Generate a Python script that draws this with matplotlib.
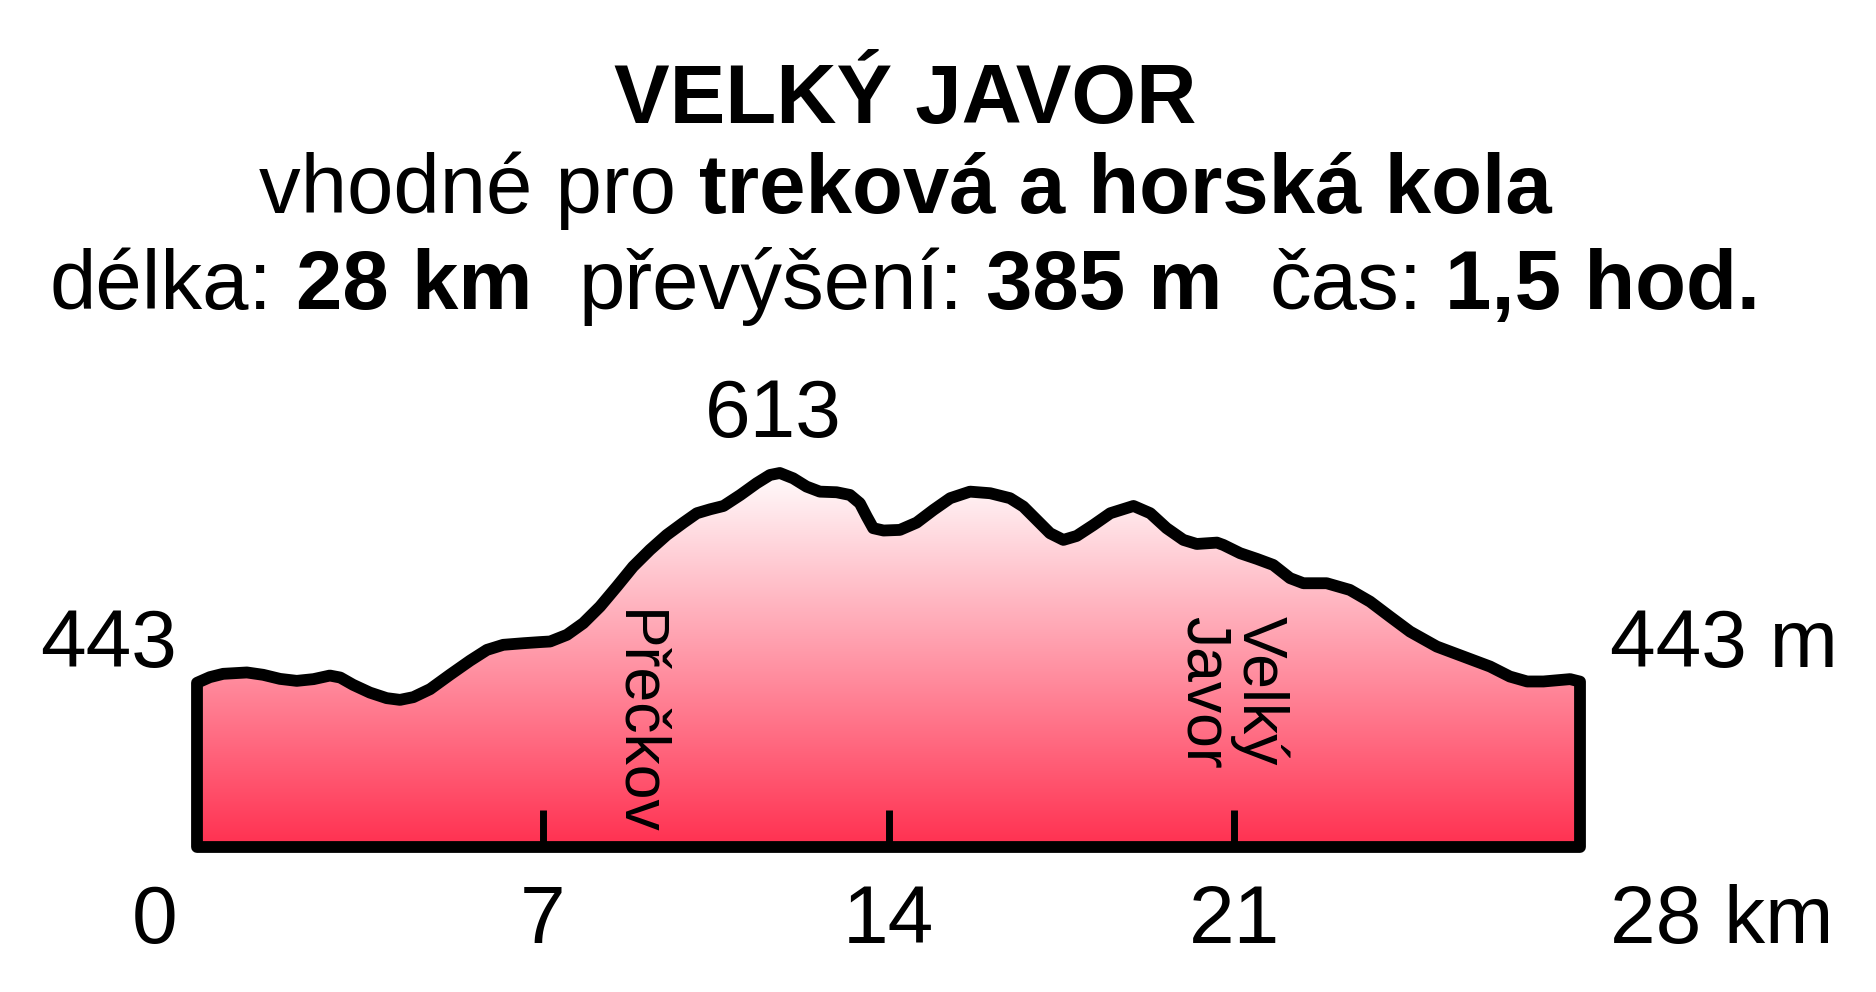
import numpy as np
import matplotlib
matplotlib.use("Agg")
import matplotlib.pyplot as plt
from matplotlib.colors import LinearSegmentedColormap
from matplotlib.patches import Polygon

plt.rcParams['font.family'] = ['Liberation Sans', 'DejaVu Sans']

# elevation profile (km, m n. m.)
km = [0, 0.26, 0.53, 1.01, 1.34, 1.68, 2.02, 2.36, 2.69, 2.9, 3.16, 3.5,
      3.84, 4.11, 4.38, 4.72, 5.12, 5.53, 5.87, 6.2, 6.61, 6.94, 7.15, 7.49,
      7.82, 8.16, 8.5, 8.83, 9.17, 9.51, 9.85, 10.12, 10.39, 10.66, 11.0,
      11.33, 11.6, 11.8, 12.07, 12.34, 12.61, 12.95, 13.22, 13.42, 13.56,
      13.69, 13.9, 14.23, 14.57, 14.91, 15.25, 15.65, 16.06, 16.46, 16.73,
      17.0, 17.27, 17.54, 17.81, 18.15, 18.49, 18.96, 19.3, 19.63, 19.97,
      20.24, 20.65, 20.78, 21.12, 21.46, 21.79, 22.13, 22.4, 22.87, 23.34,
      23.75, 24.15, 24.56, 25.1, 25.64, 26.18, 26.58, 26.93, 27.26, 27.8, 28]
elev = [443, 447.6, 450.3, 451.4, 449.5, 446.2, 444.6, 446, 448.9, 447.3,
        441.4, 435.1, 430.6, 429.2, 431.4, 437.9, 449.5, 461, 469.7, 473.8,
        475.1, 476, 476.5, 481.9, 491.3, 504.8, 521, 537.2, 550.7, 562.8,
        572.8, 580.4, 583.6, 586.3, 595.2, 604.7, 611.4, 613, 608.7, 602,
        597.9, 597.4, 595.2, 588.5, 577.7, 568.3, 566.4, 566.9, 572.8, 583.1,
        592.6, 597.9, 596.6, 592.6, 585.8, 575, 564.2, 558.8, 562, 570.9,
        580.4, 586.3, 580.4, 568.3, 558.8, 555.5, 556.6, 554.7, 548, 543.4,
        538.5, 527.8, 523.7, 523.7, 518.3, 508.8, 496.7, 484.5, 472.4, 464.3,
        456.2, 448.1, 444.1, 444.1, 446, 444]
base = 310

tick_km = [7, 14, 21]
tick_labels = ['7', '14', '21']
start_label = '0'
end_label = '28 km'
elev_start = '443'
elev_end = '443 m'
elev_max = '613'
place_names = ['Přečkov', 'Velký\nJavor']
place_km = [8.9, 20.94]

title = 'VELKÝ JAVOR'
line2 = [('vhodné pro', 'normal'), ('treková a horská kola', 'bold')]
line2_gaps = [1]
line3 = [('délka:', 'normal'), ('28 km', 'bold'), ('převýšení:', 'normal'),
         ('385 m', 'bold'), ('čas:', 'normal'), ('1,5 hod.', 'bold')]
line3_gaps = [1, 2, 1, 2, 1]

W, H = 1876, 992
fig = plt.figure(figsize=(W / 100, H / 100), dpi=100)
ax = fig.add_axes([197 / W, 145 / H, 1383 / W, 374 / H])
ax.set_xlim(0, 28)
ax.set_ylim(base, 613)
ax.axis('off')

# profile polygon
xs = [0] + km + [28]
ys = [base] + elev + [base]
outline = Polygon(np.column_stack([xs, ys]), closed=True, fc='none', ec='black',
                  lw=8.5, joinstyle='round', clip_on=False, zorder=3)
ax.add_patch(outline)

cmap = LinearSegmentedColormap.from_list('grad', ['#ff3050', '#ffffff'])
grad = np.linspace(0, 1, 256).reshape(-1, 1)
im = ax.imshow(grad, cmap=cmap, origin='lower', extent=[0, 28, base, 618],
               aspect='auto', zorder=1)
im.set_clip_path(outline)

ax.vlines(tick_km, base, base + 30, color='black', lw=5, zorder=2)

# axis labels
lab = dict(fontsize=59, va='baseline', clip_on=False)
for k, s in zip(tick_km, tick_labels):
    ax.text(k, 232, s, ha='center', **lab)
ax.text(-0.4, 232, start_label, ha='right', **lab)
ax.text(28.6, 232, end_label, ha='left', **lab)
ax.text(-0.4, 456, elev_start, ha='right', **lab)
ax.text(28.6, 456, elev_end, ha='left', **lab)
ax.text(11.66, 642, elev_max, ha='center', **lab)

ax.text(place_km[0], 502, place_names[0], rotation=-90, fontsize=45,
        ha='center', va='top', zorder=4)
ax.text(place_km[1], 497, place_names[1], rotation=-90, fontsize=45,
        ha='center', va='top', multialignment='left', linespacing=0.93, zorder=4)

# header
fig.text(905 / W, 1 - 123 / H, title, fontsize=60, fontweight='bold',
         ha='center', va='baseline')


def rich_line(parts, gaps, y_px, size, cx=905):
    r = fig.canvas.get_renderer()
    texts = [fig.text(0, 1 - y_px / H, s, fontsize=size, fontweight=w,
                      ha='left', va='baseline') for s, w in parts]
    widths = [t.get_window_extent(r).width for t in texts]
    sp = 0.278 * size / 72 * 100
    total = sum(widths) + sp * sum(gaps)
    x = cx - total / 2
    for i, t in enumerate(texts):
        t.set_x(x / W)
        x += widths[i]
        if i < len(gaps):
            x += gaps[i] * sp


rich_line(line2, line2_gaps, 213, 60)
rich_line(line3, line3_gaps, 309, 60)

fig.savefig('out.png', dpi=100, facecolor='white')
